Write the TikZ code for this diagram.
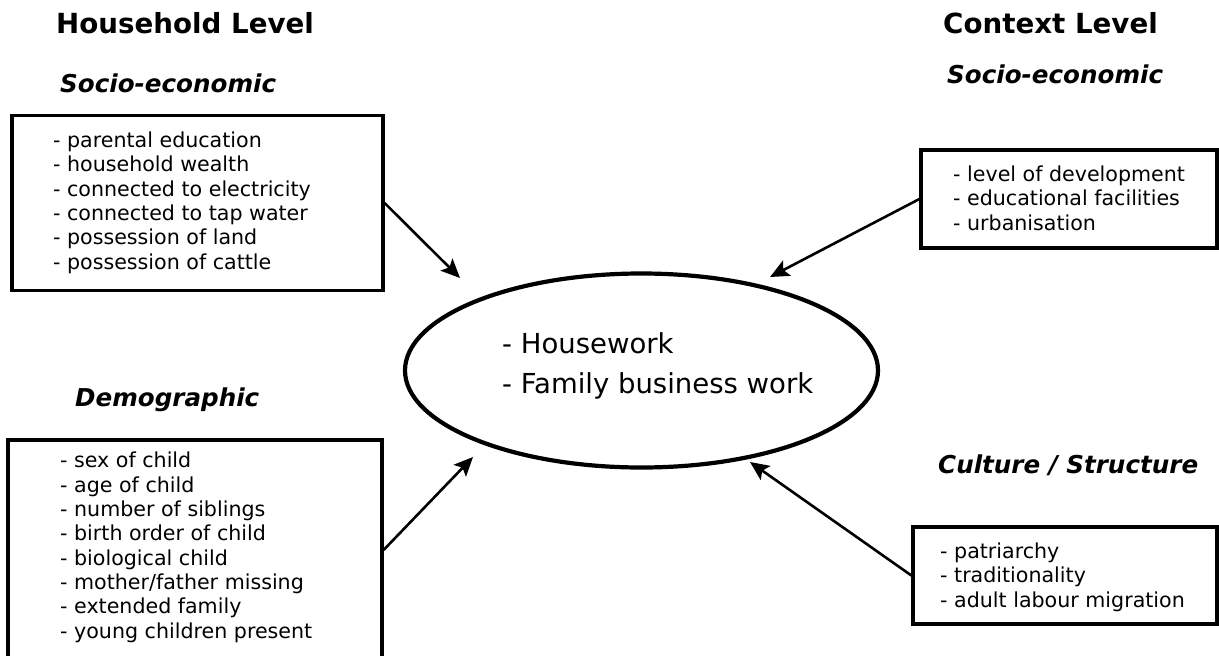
\documentclass[tikz,border=0pt]{standalone}
\usepackage{fontspec}
\setmainfont{DejaVu Sans}
\usetikzlibrary{arrows.meta,shapes.geometric}
\tikzset{
  boxframe/.style={draw, line width=3.2pt, inner sep=0pt},
  listtext/.style={anchor=base west, align=left, inner sep=0pt, font=\fontsize{20.6}{24.3}\selectfont},
  leveltitle/.style={anchor=base west, inner sep=0pt, font=\fontsize{27.7}{32}\selectfont\bfseries},
  grouptitle/.style={anchor=base west, inner sep=0pt, font=\fontsize{24.6}{29}\selectfont\bfseries\itshape},
  influence/.style={line width=2.6pt, -{Stealth[length=19pt, width=17pt, inset=4pt]}},
}
\begin{document}
\begin{tikzpicture}[x=1pt, y=-1pt]
\clip (0,0) rectangle (1219,656);
\fill[white] (0,0) rectangle (1219,656);

% titles
\node[leveltitle] (hh) at (56,33) {Household Level};
\node[leveltitle] (ctx) at (943,33) {Context Level};
\node[grouptitle] (seL) at (60,92) {Socio-economic};
\node[grouptitle] (seR) at (947,83) {Socio-economic};
\node[grouptitle] (demo) at (75,406) {Demographic};
\node[grouptitle] (cult) at (938,473) {Culture / Structure};

% boxes
\node[boxframe, minimum width=371pt, minimum height=175pt] (box1) at (197.5,203) {};
\node[boxframe, minimum width=296pt, minimum height=98pt] (box2) at (1069,199) {};
\node[boxframe, minimum width=374pt, minimum height=220pt] (box3) at (195,550) {};
\node[boxframe, minimum width=304pt, minimum height=97pt] (box4) at (1065,575.5) {};

% list texts (anchored at the baseline of their last line)
\node[listtext] (t1) at (53,269) {- parental education\\- household wealth\\- connected to electricity\\- connected to tap water\\- possession of land\\- possession of cattle};
\node[listtext] (t2) at (953,230) {- level of development\\- educational facilities\\- urbanisation};
\node[listtext] (t3) at (60,638) {- sex of child\\- age of child\\- number of siblings\\- birth order of child\\- biological child\\- mother/father missing\\- extended family\\- young children present};
\node[listtext] (t4) at (940,607) {- patriarchy\\- traditionality\\- adult labour migration};

% central ellipse
\node[draw, line width=4.2pt, ellipse, minimum width=473pt, minimum height=194pt, inner sep=0pt] (ell) at (641.5,370.5) {};
\node[anchor=base west, align=left, inner sep=0pt, font=\fontsize{27.5}{40}\selectfont] (work) at (502,393) {- Housework\\- Family business work};

% arrow tips
\coordinate (a1) at (460,278);
\coordinate (a2) at (770,277);
\coordinate (a3) at (473,457);
\coordinate (a4) at (750,462);

\draw[influence] (box1.east) -- (a1);
\draw[influence] (box2.west) -- (a2);
\draw[influence] (box3.east) -- (a3);
\draw[influence] (box4.west) -- (a4);
\end{tikzpicture}
\end{document}
